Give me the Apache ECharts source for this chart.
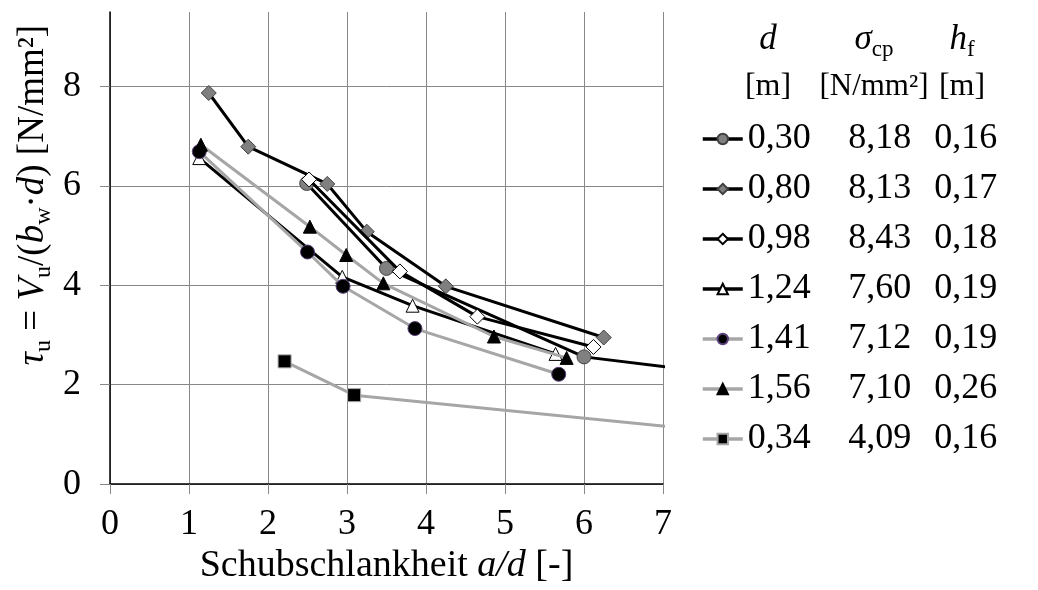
<!DOCTYPE html>
<html><head><meta charset="utf-8">
<script src="https://cdn.jsdelivr.net/npm/echarts@6/dist/echarts.min.js"></script>
<style>html,body{margin:0;padding:0;background:#fff}#c{width:1038px;height:590px}</style>
</head><body><div id="c"></div>
<script>
// ---- data ----
const seriesNames = ['0,30', '0,80', '0,98', '1,24', '1,41', '1,56', '0,34'];
const sigmaCp = ['8,18', '8,13', '8,43', '7,60', '7,12', '7,10', '4,09'];
const hfValues = ['0,16', '0,17', '0,18', '0,19', '0,19', '0,26', '0,16'];
const d030 = [[2.49, 6.05], [3.50, 4.34], [6.00, 2.56], [8.00, 2.17]];
const d080 = [[1.25, 7.87], [1.75, 6.79], [2.75, 6.04], [3.25, 5.08], [4.25, 3.98], [6.25, 2.95]];
const d098 = [[2.52, 6.13], [3.67, 4.28], [4.65, 3.37], [6.12, 2.76]];
const d124 = [[1.13, 6.56], [2.94, 4.17], [3.83, 3.59], [5.64, 2.62]];
const d141 = [[1.13, 6.69], [2.50, 4.67], [2.95, 3.98], [3.86, 3.13], [5.68, 2.21]];
const d156 = [[1.15, 6.83], [2.53, 5.18], [2.99, 4.61], [3.46, 4.04], [4.86, 2.97], [5.78, 2.54]];
const d034 = [[2.21, 2.47], [3.09, 1.79], [8.00, 1.01]];
const yTickValues = [0, 2, 4, 6, 8];

// ---- styles ----
const FF = 'Liberation Serif';
const seriesData = [d030, d080, d098, d124, d141, d156, d034];
const styles = [
  { symbol: 'circle', size: 14, line: '#000', fill: '#808080', border: '#404040' },
  { symbol: 'diamond', size: 15, line: '#000', fill: '#7f7f7f', border: '#404040' },
  { symbol: 'diamond', size: 15, line: '#000', fill: '#ffffff', border: '#000' },
  { symbol: 'triangle', size: 13, line: '#000', fill: '#ffffff', border: '#000' },
  { symbol: 'circle', size: 14, line: '#a6a6a6', fill: '#000', border: '#5a3f7a' },
  { symbol: 'triangle', size: 13, line: '#a6a6a6', fill: '#000', border: '#000' },
  { symbol: 'rect', size: 13, line: '#a6a6a6', fill: '#000', border: '#a6a6a6' }
];

const series = seriesNames.map((n, i) => ({
  type: 'line', name: n, data: seriesData[i],
  symbol: styles[i].symbol, symbolSize: styles[i].size,
  showAllSymbol: true, clip: true,
  lineStyle: { color: styles[i].line, width: 3 },
  itemStyle: { color: styles[i].fill, borderColor: styles[i].border, borderWidth: 1 },
  emphasis: { disabled: true }, z: 2 + i
}));

function richG(fs) {
  const sub = Math.round(fs * 0.66);
  return {
    i: { fontSize: fs, fontFamily: FF, fontStyle: 'italic', fill: '#000', lineHeight: fs + 8 },
    s: { fontSize: sub, fontFamily: FF, fill: '#000', lineHeight: sub, verticalAlign: 'bottom' }
  };
}
function gtext(x, y, text, fs, rot) {
  return { type: 'text', x: x, y: y, rotation: rot || 0, silent: true,
    style: { text: text, align: 'center', verticalAlign: 'middle', fontSize: fs, fontFamily: FF,
      fill: '#000', lineHeight: fs + 8, rich: richG(fs) } };
}

const chart = echarts.init(document.getElementById('c'), null, { renderer: 'canvas' });
chart.setOption({
  animation: false,
  backgroundColor: '#fff',
  grid: { left: 110, right: 375, top: 12, bottom: 105, containLabel: false },
  xAxis: {
    type: 'value', min: 0, max: 7, interval: 1,
    name: 'Schubschlankheit {i|a/d} [-]', nameLocation: 'middle', nameGap: 58,
    nameTextStyle: { fontSize: 38, fontFamily: FF, color: '#000',
      rich: { i: { fontSize: 38, fontFamily: FF, fontStyle: 'italic', color: '#000' } } },
    axisLine: { lineStyle: { color: '#000', width: 1.5 } },
    axisTick: { show: true, length: 10, lineStyle: { color: '#888' } },
    axisLabel: { fontSize: 36, fontFamily: FF, color: '#000', margin: 22 },
    splitLine: { show: true, lineStyle: { color: '#888', width: 1 } }
  },
  yAxis: {
    type: 'value', min: 0, max: 9.5, interval: 1,
    axisLine: { show: true, lineStyle: { color: '#000', width: 1.5 } },
    axisTick: { show: true, length: 10, customValues: yTickValues, lineStyle: { color: '#888' } },
    axisLabel: { fontSize: 36, fontFamily: FF, color: '#000', margin: 29, customValues: yTickValues },
    splitLine: { show: true, lineStyle: { color: '#888', width: 1 } }
  },
  legend: {
    orient: 'vertical', left: 696, top: 116, itemWidth: 40, itemHeight: 13, itemGap: 14,
    selectedMode: false, data: seriesNames,
    lineStyle: { width: 3.5 },
    formatter: name => {
      const i = seriesNames.indexOf(name);
      return '{a|' + name + '}{b|' + sigmaCp[i] + '}{c|' + hfValues[i] + '}';
    },
    textStyle: {
      fontSize: 36, fontFamily: FF, color: '#000', lineHeight: 36,
      rich: {
        a: { width: 100, align: 'left', fontSize: 36, fontFamily: FF, color: '#000', lineHeight: 36 },
        b: { width: 64, align: 'center', fontSize: 36, fontFamily: FF, color: '#000', lineHeight: 36 },
        c: { width: 108, align: 'center', fontSize: 36, fontFamily: FF, color: '#000', lineHeight: 36 }
      }
    }
  },
  graphic: [
    gtext(33, 195, '{i|τ}{s|u} = {i|V}{s|u}/({i|b}{s|w}·{i|d}) [N/mm²]', 37, Math.PI / 2),
    gtext(768, 40, '{i|d}', 35),
    gtext(874, 40, '{i|σ}{s|cp}', 35),
    gtext(962, 40, '{i|h}{s|f}', 35),
    gtext(768, 87, '[m]', 32),
    gtext(874, 87, '[N/mm²]', 31),
    gtext(962, 87, '[m]', 32)
  ],
  series: series
});
</script>
</body></html>
